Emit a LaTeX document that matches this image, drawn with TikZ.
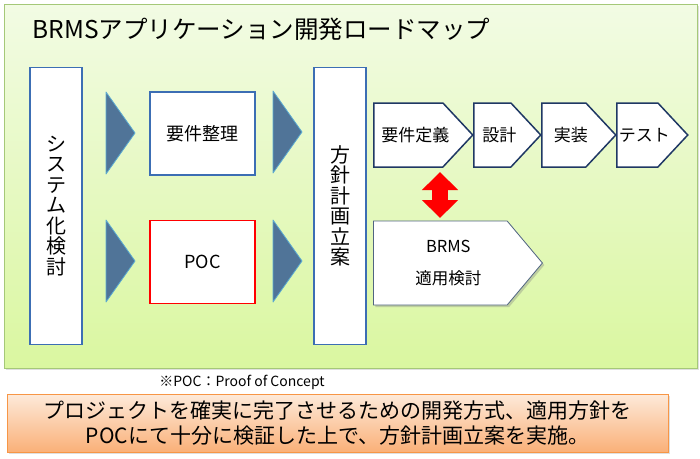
\documentclass[tikz,border=0pt]{standalone}
\usepackage{fontspec}
\setmainfont{Noto Sans CJK JP}
\usetikzlibrary{shapes.symbols, arrows.meta, shadows}
\definecolor{panelline}{RGB}{165,200,120}
\definecolor{paneltop}{RGB}{242,251,228}
\definecolor{panelbot}{RGB}{218,247,160}
\definecolor{boxblue}{RGB}{60,110,180}
\definecolor{stageline}{RGB}{31,56,100}
\definecolor{triblue}{RGB}{80,116,152}
\definecolor{triedge}{RGB}{90,170,210}
\definecolor{orgline}{RGB}{247,150,70}
\definecolor{orgtop}{RGB}{253,234,218}
\definecolor{orgbot}{RGB}{250,176,120}
\tikzset{panel/.style={draw=panelline, line width=0.8pt, top color=paneltop, bottom color=panelbot,
        drop shadow={opacity=0.25, shadow xshift=1.5pt, shadow yshift=-1.5pt}},
    tallbox/.style={draw=boxblue, line width=1.5pt, fill=white, minimum width=52pt,
        minimum height=277pt, inner sep=0pt, align=center,
        font=\fontsize{20}{20.5}\selectfont},
    taskbox/.style={draw=boxblue, line width=1.5pt, fill=white, minimum width=105pt,
        minimum height=83pt, font=\fontsize{18}{20}\selectfont},
    stage/.style={shape=signal, signal to=east, signal pointer angle=94, draw=stageline,
        line width=1.5pt, fill=white, minimum height=64pt, inner sep=0pt},
    stagetext/.style={xshift=7pt, inner sep=0pt, align=center, font=\fontsize{17}{18}\selectfont},
    flowtri/.style={fill=triblue, draw=triedge, line width=0.8pt, line join=round}}

\begin{document}
\begin{tikzpicture}[x=1pt, y=-1pt]
    \useasboundingbox (0,0) rectangle (700,458);
    % background panel
    \path[panel] (4,4) rectangle (697,368);
    \node[anchor=west, font=\fontsize{24.5}{26}\selectfont] (title) at (29,29)
        {BRMSアプリケーション開発ロードマップ};
    % left column
    \node[tallbox] (sys) at (56,206) {シ\\ス\\テ\\ム\\化\\検\\討};
    \node[taskbox] (req) at (202.5,133.5) {要件整理};
    \node[taskbox, draw=red] (poc) at (202.5,262) {POC};
    \node[tallbox] (plan) at (340,206) {方\\針\\計\\画\\立\\案};
    \foreach \x/\y in {106/92, 106/220, 273/91, 273/220}
        \path[flowtri] (\x,\y) -- (\x+29,\y+41) -- (\x,\y+82) -- cycle;
    % stages
    \node[stage, minimum width=99pt, anchor=west, label={[stagetext]center:要件定義}] (reqdef) at (373,135) {};
    \node[stage, minimum width=67pt, anchor=west, label={[stagetext]center:設計}] (design) at (473,135) {};
    \node[stage, minimum width=74pt, anchor=west, label={[stagetext]center:実装}] (impl) at (541,135) {};
    \node[stage, minimum width=71pt, anchor=west, label={[stagetext]center:テスト}] (test) at (616,135) {};
    \node[stage, signal pointer angle=100, minimum width=169pt, minimum height=84pt,
        draw={rgb,255:red,80;green,100;blue,130}, line width=0.8pt, anchor=west,
        drop shadow={opacity=0.35, shadow xshift=2pt, shadow yshift=-2pt},
        label={[stagetext, xshift=1pt, font=\fontsize{16.5}{32}\selectfont]center:BRMS\\適用検討}] (brms) at (373,263) {};
    \coordinate (up) at (440,172);
    \coordinate (dn) at (440,218);
    \draw[red, line width=16pt, {Triangle[width=35pt, length=18pt]}-{Triangle[width=35pt, length=18pt]}]
        (up) -- (dn);
    % note and summary
    \node[font=\fontsize{14}{15}\selectfont] (note) at (242,382) {※POC：Proof of Concept};
    \node[draw=orgline, line width=1pt, top color=orgtop, bottom color=orgbot,
        minimum width=661pt, minimum height=58pt, align=center,
        font=\fontsize{21}{24.5}\selectfont,
        drop shadow={opacity=0.25, shadow xshift=1.5pt, shadow yshift=-1.5pt}] (sum) at (337.5,423)
        {プロジェクトを確実に完了させるための開発方式、適用方針を\\POCにて十分に検証した上で、方針計画立案を実施。};
\end{tikzpicture}
\end{document}
